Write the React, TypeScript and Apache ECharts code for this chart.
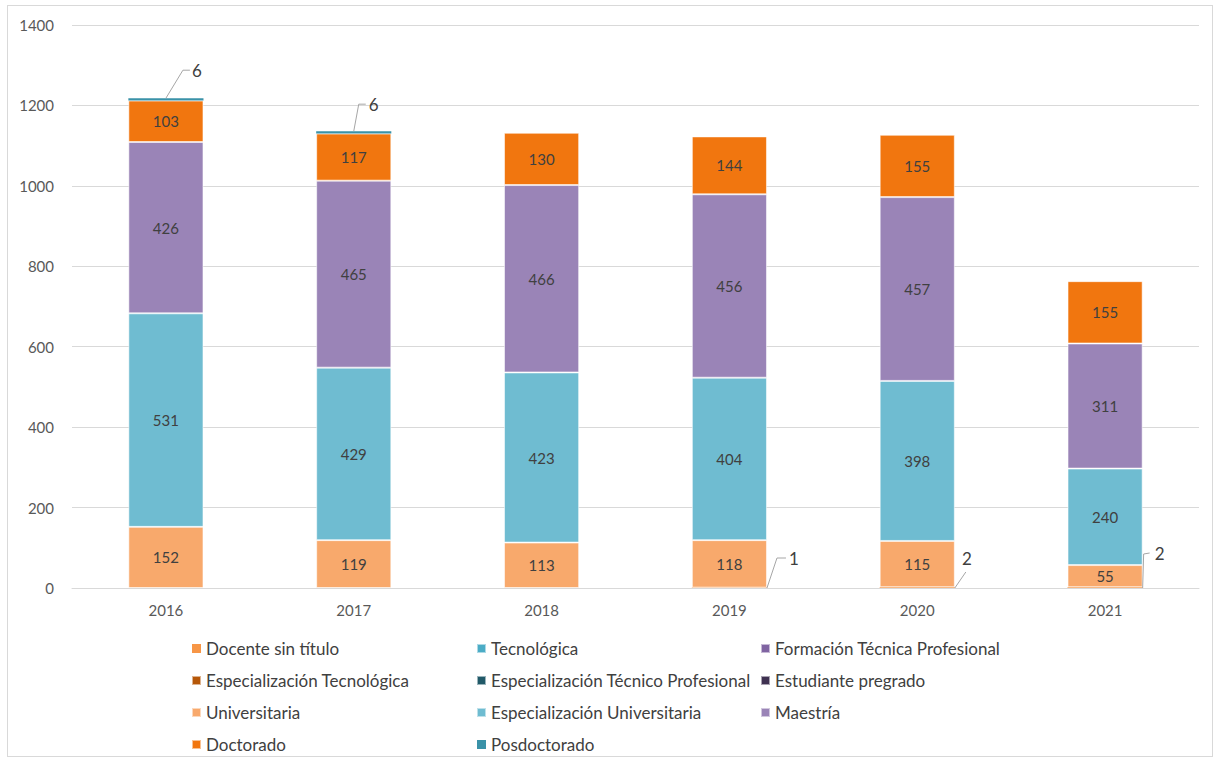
import React, { useEffect, useRef } from "react";
import * as echarts from "echarts";

const years = ["2016", "2017", "2018", "2019", "2020", "2021"];

const docenteSinTitulo = [null, null, null, 1, 2, 2];
const tecnologica = [null, null, null, null, null, null];
const formacionTecnica = [null, null, null, null, null, null];
const especializacionTecnologica = [null, null, null, null, null, null];
const especializacionTecnicoProf = [null, null, null, null, null, null];
const estudiantePregrado = [null, null, null, null, null, null];
const universitaria = [152, 119, 113, 118, 115, 55];
const especializacionUniversitaria = [531, 429, 423, 404, 398, 240];
const maestria = [426, 465, 466, 456, 457, 311];
const doctorado = [103, 117, 130, 144, 155, 155];
const posdoctorado = [6, 6, null, null, null, null];

const yTicks = { min: 0, max: 1400, interval: 200 };

const FONT = "Lato, 'Open Sans', sans-serif";
const TEXT = "#404040";
const BAR_WIDTH_RATIO = 0.4;

// Callout geometry for thin segments: where the leader starts on the bar,
// where the label sits relative to that point, and the leader's bends
// relative to the label centre.
type Callout = {
  anchor: "top" | "bottomRight";
  label: [number, number];
  bends: [number, number][];
};

const posdocCallouts: Record<number, Callout> = {
  0: { anchor: "top", label: [31, -28], bends: [[-14, 0], [-7, 0]] },
  1: { anchor: "top", label: [20, -27], bends: [[-15, 0], [-8, 0]] },
};
const docenteCallouts: Record<number, Callout> = {
  3: { anchor: "bottomRight", label: [27, -30], bends: [[-17, 0], [-8, 0]] },
  4: { anchor: "bottomRight", label: [12, -30], bends: [[-1, 14]] },
  5: { anchor: "bottomRight", label: [17, -35], bends: [[-16, 1], [-10, 0]] },
};

type SeriesDef = {
  name: string;
  data: (number | null)[];
  color: string;
  callouts?: Record<number, Callout>;
};

const seriesDefs: SeriesDef[] = [
  { name: "Docente sin título", data: docenteSinTitulo, color: "#F79646", callouts: docenteCallouts },
  { name: "Tecnológica", data: tecnologica, color: "#4BACC6" },
  { name: "Formación Técnica Profesional", data: formacionTecnica, color: "#8064A2" },
  { name: "Especialización Tecnológica", data: especializacionTecnologica, color: "#B65708" },
  { name: "Especialización Técnico Profesional", data: especializacionTecnicoProf, color: "#215968" },
  { name: "Estudiante pregrado", data: estudiantePregrado, color: "#3F3151" },
  { name: "Universitaria", data: universitaria, color: "#F8A96C" },
  { name: "Especialización Universitaria", data: especializacionUniversitaria, color: "#6FBCD1" },
  { name: "Maestría", data: maestria, color: "#9A84B7" },
  { name: "Doctorado", data: doctorado, color: "#F1760F" },
  { name: "Posdoctorado", data: posdoctorado, color: "#3A92A8", callouts: posdocCallouts },
];

const legendColumns = [
  ["Docente sin título", "Especialización Tecnológica", "Universitaria", "Doctorado"],
  ["Tecnológica", "Especialización Técnico Profesional", "Especialización Universitaria", "Posdoctorado"],
  ["Formación Técnica Profesional", "Estudiante pregrado", "Maestría"],
];
const legendLefts = [183, 468, 752];

// Stack base (sum of the series below) and top for a given series/year.
function stackBounds(seriesIndex: number, yearIndex: number): [number, number] {
  let base = 0;
  for (let k = 0; k < seriesIndex; k++) base += seriesDefs[k].data[yearIndex] ?? 0;
  return [base, base + (seriesDefs[seriesIndex].data[yearIndex] ?? 0)];
}

type CalloutItem = { year: number; anchorValue: number; value: number; c: Callout };

const calloutItems: CalloutItem[] = [];
seriesDefs.forEach((s, si) => {
  if (!s.callouts) return;
  Object.keys(s.callouts).forEach((key) => {
    const yi = Number(key);
    const c = s.callouts![yi];
    const [base, top] = stackBounds(si, yi);
    calloutItems.push({
      year: yi,
      anchorValue: c.anchor === "top" ? top : base,
      value: s.data[yi] as number,
      c,
    });
  });
});

export default function App() {
  const ref = useRef<HTMLDivElement>(null);

  useEffect(() => {
    if (!ref.current) return;
    const chart = echarts.init(ref.current, undefined, { renderer: "svg" });

    const barSeries = seriesDefs.map((s) => ({
      name: s.name,
      type: "bar",
      stack: "total",
      barWidth: `${BAR_WIDTH_RATIO * 100}%`,
      data: s.data,
      itemStyle: {
        color: s.color,
        borderColor: "rgba(255,255,255,0.55)",
        borderWidth: s.callouts ? 0 : 1,
      },
      label: {
        show: !s.callouts,
        position: "inside",
        color: TEXT,
        fontFamily: FONT,
        fontSize: 15,
        formatter: (p: any) => (p.value == null ? "" : String(p.value)),
      },
    }));

    // Leader lines and labels for the segments too thin to hold their value.
    const calloutSeries = {
      name: "callouts",
      type: "custom",
      silent: true,
      z: 5,
      data: calloutItems.map((it) => [it.year, it.anchorValue, it.value]),
      encode: { x: 0, y: 1 },
      renderItem: (params: any, api: any) => {
        const it = calloutItems[params.dataIndex];
        const p = api.coord([api.value(0), api.value(1)]);
        const halfBar = (api.size([1, 0])[0] * BAR_WIDTH_RATIO) / 2;
        const ax = it.c.anchor === "top" ? p[0] : p[0] + halfBar;
        const ay = p[1];
        const lx = ax + it.c.label[0];
        const ly = ay + it.c.label[1];
        const pts: number[][] = [[ax, ay]];
        it.c.bends.forEach((b) => pts.push([lx + b[0], ly + b[1]]));
        return {
          type: "group",
          children: [
            {
              type: "polyline",
              shape: { points: pts },
              style: { stroke: "#a6a6a6", lineWidth: 1, fill: null },
            },
            {
              type: "text",
              style: {
                text: String(it.value),
                x: lx,
                y: ly,
                align: "center",
                verticalAlign: "middle",
                fill: TEXT,
                fontSize: 17,
                fontFamily: FONT,
              },
            },
          ],
        };
      },
    };

    chart.setOption({
      animation: false,
      textStyle: { fontFamily: FONT },
      grid: { left: 64, right: 13, top: 19, bottom: 168 },
      legend: legendColumns.map((names, i) => ({
        data: names,
        orient: "vertical",
        left: legendLefts[i],
        top: 634,
        padding: 0,
        itemWidth: 9,
        itemHeight: 9,
        itemGap: 15,
        icon: "rect",
        selectedMode: false,
        textStyle: { color: TEXT, fontSize: 17, fontFamily: FONT, lineHeight: 16 },
      })),
      xAxis: {
        type: "category",
        data: years,
        axisLine: { show: true, lineStyle: { color: "#d9d9d9" } },
        axisTick: { show: false },
        axisLabel: { color: "#595959", fontSize: 15, fontFamily: FONT, margin: 14 },
      },
      yAxis: {
        type: "value",
        min: yTicks.min,
        max: yTicks.max,
        interval: yTicks.interval,
        axisLine: { show: false },
        axisTick: { show: false },
        splitLine: { lineStyle: { color: "#d9d9d9" } },
        axisLabel: {
          color: "#595959",
          fontSize: 15,
          fontFamily: FONT,
          margin: 18,
          formatter: (v: number) => String(v),
        },
      },
      series: [...barSeries, calloutSeries],
    });

    return () => chart.dispose();
  }, []);

  return (
    <div
      ref={ref}
      style={{
        position: "absolute",
        left: 7,
        top: 5,
        width: 1206,
        height: 752,
        border: "1px solid #d9d9d9",
        boxSizing: "border-box",
        background: "#fff",
      }}
    />
  );
}
